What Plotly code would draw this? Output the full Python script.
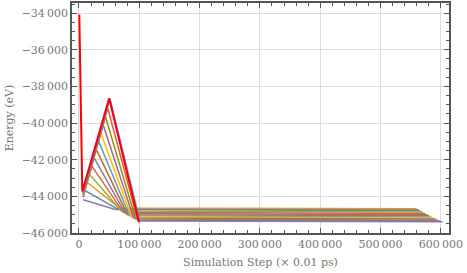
import plotly.graph_objects as go

# ---- data ----
red_x = [500, 1200, 1800, 2600, 1700, 2400, 5500, 50000, 99500]
red_y = [-34075, -35500, -36850, -37000, -37200, -37400, -43730, -38650, -45420]

curve_colors = ["#8778B3", "#5E81B5", "#E19C24", "#8FB032", "#EB6235", "#8778B3",
                "#C56E1A", "#5D9EC7", "#FFBF00", "#A5609D", "#929600", "#E95536", "#6685D9"]
start_x = [7000] * 13
start_y = [-44180, -44050, -43980, -43950, -43920, -43900, -43880, -43860,
           -43840, -43820, -43800, -43780, -43760]
peak_x = [None, 10000, 13770, 17540, 21310, 25080, 28850, 32620, 36390, 40160, 43930, 47700, 51470]
peak_y = [None, -43690, -43240, -42800, -42350, -41900, -41450, -41000,
          -40550, -40100, -39650, -39200, -38680]
drop_x = [60000, 63400, 66800, 70200, 73600, 77000, 80400, 83800, 87200, 90600, 94000, 97400, 101000]
drop_y = [-44720, -44680, -44630, -44800, -44870, -44940, -45000, -45060,
          -45120, -45180, -45240, -45300, -45340]
end_x = [566000, 563000, 560000, 570500, 574000, 577500, 581000, 584500,
         588000, 591500, 595000, 599000, 603000]
end_y = [-44780, -44730, -44680, -44860, -44930, -45000, -45060, -45120,
         -45180, -45240, -45300, -45350, -45380]

x_tickvals = [0, 100000, 200000, 300000, 400000, 500000, 600000]
x_ticktext = ["0", "100\u2009000", "200\u2009000", "300\u2009000", "400\u2009000",
              "500\u2009000", "600\u2009000"]
y_tickvals = [-46000, -44000, -42000, -40000, -38000, -36000, -34000]
y_ticktext = ["\u221246\u2009000", "\u221244\u2009000", "\u221242\u2009000", "\u221240\u2009000",
              "\u221238\u2009000", "\u221236\u2009000", "\u221234\u2009000"]

fig = go.Figure()
for i in range(len(curve_colors)):
    xs = [start_x[i]]
    ys = [start_y[i]]
    if peak_x[i] is not None:
        xs.append(peak_x[i]); ys.append(peak_y[i])
    xs += [drop_x[i], end_x[i]]
    ys += [drop_y[i], end_y[i]]
    fig.add_trace(go.Scatter(x=xs, y=ys, mode="lines",
                             line=dict(color=curve_colors[i], width=1.5),
                             showlegend=False, hoverinfo="skip"))

fig.add_trace(go.Scatter(x=red_x, y=red_y, mode="lines",
                         line=dict(color="#FF0000", width=2),
                         showlegend=False, hoverinfo="skip"))

font = dict(family="DejaVu Serif", size=11, color="#777777")
axis_common = dict(
    showgrid=True, gridcolor="#DCDCDC", gridwidth=1,
    zeroline=False, showline=True, linecolor="#555555", linewidth=1.5,
    mirror="allticks", ticks="inside", ticklen=5, tickcolor="#555555", tickwidth=1,
    tickfont=font,
)

fig.update_layout(
    width=467, height=273,
    margin=dict(l=72, r=18, t=1, b=40),
    paper_bgcolor="white", plot_bgcolor="white",
    font=font,
    xaxis=dict(range=[-11600, 613600], tickvals=x_tickvals, ticktext=x_ticktext,
               minor=dict(dtick=20000, ticklen=3, tickcolor="#555555", ticks="inside", showgrid=False),
               title=dict(text="Simulation Step (\u00d7 0.01 ps)", font=font, standoff=8),
               **axis_common),
    yaxis=dict(range=[-46000, -33445], tickvals=y_tickvals, ticktext=y_ticktext,
               minor=dict(dtick=500, ticklen=3, tickcolor="#555555", ticks="inside", showgrid=False),
               title=dict(text="Energy (eV)", font=font, standoff=6),
               **axis_common),
)

fig.write_html("out.html", config={"displayModeBar": False},
               post_script="document.body.style.margin='0';")
